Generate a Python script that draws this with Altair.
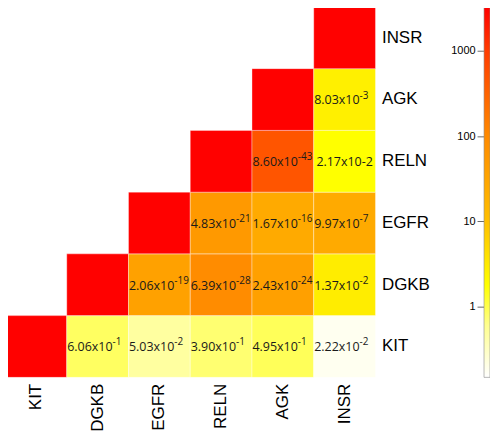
import altair as alt
import pandas as pd
import math

# Genes
cols = ["KIT", "DGKB", "EGFR", "RELN", "AGK", "INSR"]
rows = ["INSR", "AGK", "RELN", "EGFR", "DGKB", "KIT"]

# cells: row gene, column gene, colour value, text
cell_row = ["KIT", "KIT", "KIT", "KIT", "KIT", "KIT",
            "DGKB", "DGKB", "DGKB", "DGKB", "DGKB",
            "EGFR", "EGFR", "EGFR", "EGFR",
            "RELN", "RELN", "RELN",
            "AGK", "AGK",
            "INSR"]
cell_col = ["KIT", "DGKB", "EGFR", "RELN", "AGK", "INSR",
            "DGKB", "EGFR", "RELN", "AGK", "INSR",
            "EGFR", "RELN", "AGK", "INSR",
            "RELN", "AGK", "INSR",
            "AGK", "INSR",
            "INSR"]
cell_val = [3200, 0.86, 0.49, 0.76, 0.91, 0.18,
            3200, 38, 90, 39, 2.9,
            3200, 52, 26, 26,
            3200, 480, 1.8,
            3200, 2.7,
            3200]
# mantissa part and exponent part of the p-values
cell_base = ["", "6.06x10", "5.03x10", "3.90x10", "4.95x10", "2.22x10",
             "", "2.06x10", "6.39x10", "2.43x10", "1.37x10",
             "", "4.83x10", "1.67x10", "9.97x10",
             "", "8.60x10", "",
             "", "8.03x10",
             ""]
cell_exp = ["", "-1", "-2", "-1", "-1", "-2",
            "", "-19", "-28", "-24", "-2",
            "", "-21", "-16", "-7",
            "", "-43", "",
            "", "-3",
            ""]
# labels written without superscript
cell_plain = ["", "", "", "", "", "",
              "", "", "", "", "",
              "", "", "", "",
              "", "", "2.17x10-2",
              "", "",
              ""]

# colour scale
c_dom = [0.149, 0.6, 1.8, 10, 100, 1000, 3260]
c_rng = ["#ffffff", "#ffff90", "#ffff00", "#ffc000", "#ff8a00", "#ff3c00", "#ff0000"]
legend_ticks = [1, 10, 100, 1000]

df = pd.DataFrame({"row": cell_row, "col": cell_col, "val": cell_val,
                   "base": cell_base, "exp": cell_exp, "plain": cell_plain})

W = 372
H = 372
FONT = "Open Sans, DejaVu Sans"
SPLIT = 15

xenc = alt.X("col:N", sort=cols, title=None,
             scale=alt.Scale(paddingInner=0, paddingOuter=0),
             axis=alt.Axis(orient="bottom", labelAngle=270, labelAlign="right",
                           labelBaseline="middle", labelFontSize=17, labelFont="Liberation Sans",
                           labelColor="#000", labelPadding=6, domain=False, ticks=False))
yenc = alt.Y("row:N", sort=rows, title=None,
             scale=alt.Scale(paddingInner=0, paddingOuter=0),
             axis=alt.Axis(orient="right", labelFontSize=17, labelFont="Liberation Sans",
                           labelColor="#000", labelPadding=6, domain=False, ticks=False))

rects = alt.Chart(df).mark_rect(stroke="#ffffff", strokeWidth=0.6, strokeOpacity=0.6).encode(
    x=xenc, y=yenc,
    color=alt.Color("val:Q", scale=alt.Scale(type="log", domain=c_dom, range=c_rng,
                                             interpolate="rgb"), legend=None),
)
xs = alt.X("col:N", sort=cols)
ys = alt.Y("row:N", sort=rows)
t_base = alt.Chart(df).mark_text(font=FONT, fontSize=12.5, color="#1a1a1a", align="right",
                                 dx=SPLIT, dy=1).encode(x=xs, y=ys, text="base:N")
t_exp = alt.Chart(df).mark_text(font=FONT, fontSize=10, color="#1a1a1a", align="left",
                                dx=SPLIT, dy=-4).encode(x=xs, y=ys, text="exp:N")
t_plain = alt.Chart(df).mark_text(font=FONT, fontSize=12.5, color="#1a1a1a", align="center",
                                  dy=1).encode(x=xs, y=ys, text="plain:N")

heat = alt.layer(rects, t_base, t_exp, t_plain)

# colour bar
lmin, lmax = math.log10(c_dom[0]), math.log10(c_dom[-1])
stops = [alt.GradientStop(offset=(math.log10(v) - lmin) / (lmax - lmin), color=c)
         for v, c in zip(c_dom, c_rng)]
cb = pd.DataFrame({"lo": [c_dom[0]], "hi": [c_dom[-1]]})
colorbar = alt.Chart(cb).mark_rect(
    color=alt.Gradient(gradient="linear", stops=stops, x1=0, x2=0, y1=1, y2=0),
    stroke="#888888", strokeWidth=0.6,
).encode(
    x=alt.value(481), x2=alt.value(487),
    y=alt.Y("lo:Q", title=None,
            scale=alt.Scale(type="log", domain=[c_dom[0], c_dom[-1]], nice=False),
            axis=alt.Axis(orient="left", offset=-481, values=legend_ticks, format="d",
                          labelFontSize=11, labelFont="Liberation Sans", labelColor="#000",
                          tickSize=7, tickColor="#444", tickWidth=0.8, labelPadding=2,
                          domain=False, grid=False)),
    y2="hi:Q",
)

chart = alt.layer(heat, colorbar).resolve_scale(y="independent").resolve_axis(y="independent").properties(
    width=W, height=H,
    autosize=alt.AutoSizeParams(type="none"),
    padding={"left": -3, "top": -2, "right": 115, "bottom": 60},
).configure_view(stroke=None)

chart.save("out.html", embed_options={"renderer": "svg", "actions": False})
